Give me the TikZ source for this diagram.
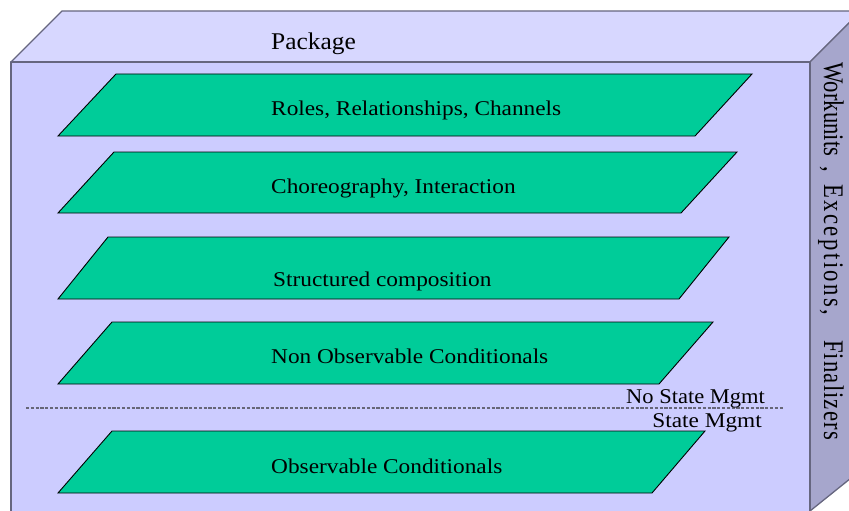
\documentclass[tikz,border=0pt]{standalone}
\usepackage{fontspec}
\setmainfont{Liberation Serif}
\definecolor{frontface}{HTML}{CCCCFF}
\definecolor{topface}{HTML}{D7D7FF}
\definecolor{sideface}{HTML}{A6A6CC}
\definecolor{boxedge}{HTML}{66667F}
\definecolor{layergreen}{HTML}{00CC99}
\definecolor{sepgray}{HTML}{666677}
\tikzset{
  face/.style={fill=#1, draw=boxedge, line width=1.3pt, line join=round},
  layer/.style={fill=layergreen, draw=black, line width=0.9pt, line join=miter},
  lbl/.style={font=\fontsize{21}{25}\selectfont, anchor=base west, inner sep=0pt},
  sidelbl/.style={font=\fontsize{21}{25}\selectfont, anchor=base west, inner sep=0pt, rotate=-90},
  sepline/.style={draw=sepgray, line width=1.2pt, dash pattern=on 3.2pt off 1.6pt},
}
\newcommand{\wide}[1]{\scalebox{1.11}[1]{#1}}
\newcommand{\tall}[1]{\scalebox{1.08}[1.35]{#1}}
\begin{document}
\begin{tikzpicture}[x=1pt,y=-1pt]
  \useasboundingbox (0,0) rectangle (849,511);
  \clip (0,0) rectangle (849,511);

  % package box: top, side and front faces
  \path[face=topface] (11,62) -- (62,11) -- (861,11) -- (810,62) -- cycle;
  \path[face=sideface] (810,62) -- (861,11) -- (861,470) -- (810,511) -- cycle;
  \path[face=frontface] (11,62) -- (810,62) -- (810,530) -- (11,530) -- cycle;

  \node[lbl, font=\fontsize{24}{28}\selectfont] (pkg) at (271,50) {\scalebox{1.06}[1]{Package}};

  % layers
  \draw[layer] (116,74) -- (752,74) -- (695,136) -- (58,136) -- cycle;
  \draw[layer] (114,152) -- (737,152) -- (681,213) -- (58,213) -- cycle;
  \draw[layer] (108,237) -- (729,237) -- (679,299) -- (58,299) -- cycle;
  \draw[layer] (112,322) -- (713,322) -- (659,384) -- (58,384) -- cycle;
  \draw[layer] (112,431) -- (705,431) -- (652,493) -- (58,493) -- cycle;

  \node[lbl] (roles) at (271,115) {\wide{Roles, Relationships, Channels}};
  \node[lbl] (chor)  at (271,193) {\wide{Choreography, Interaction}};
  \node[lbl] (struc) at (273,286) {\wide{Structured composition}};
  \node[lbl] (nonobs) at (271,363) {\wide{Non Observable Conditionals}};
  \node[lbl] (obs)   at (271,473) {\wide{Observable Conditionals}};

  % state management boundary
  \coordinate (sepL) at (26,408);
  \coordinate (sepR) at (783,408);
  \draw[sepline] (sepL) -- (sepR);
  \node[lbl, anchor=base east] (nostate) at (765,403) {\scalebox{1.07}[1]{No State Mgmt}};
  \node[lbl, anchor=base east] (state) at (762,427) {\wide{State Mgmt}};

  % side face label
  \node[sidelbl] (wu) at (824,62) {\tall{Workunits}};
  \node[sidelbl] (cm) at (824,166) {\tall{,}};
  \node[sidelbl] (ex) at (824,184) {\tall{\addfontfeature{LetterSpace=11}Exceptions,}};
  \node[sidelbl] (fin) at (824,340) {\tall{\addfontfeature{LetterSpace=5}Finalizers}};
\end{tikzpicture}
\end{document}
